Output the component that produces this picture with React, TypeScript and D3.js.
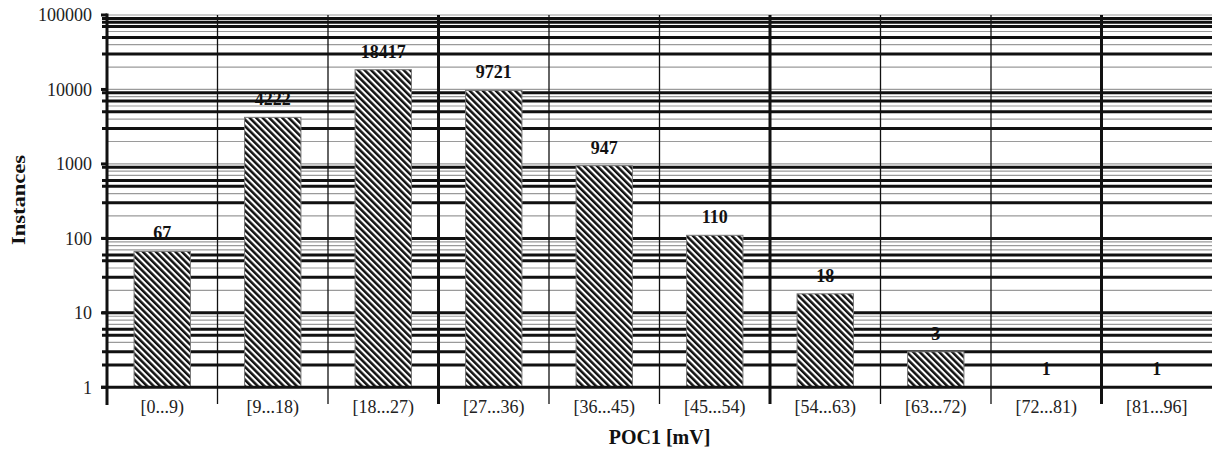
import React, { useEffect, useRef } from 'react';
import * as d3 from 'd3';

const categories = [
  '[0...9)', '[9...18)', '[18...27)', '[27...36)', '[36...45)',
  '[45...54)', '[54...63)', '[63...72)', '[72...81)', '[81...96]',
];
const instances = [67, 4222, 18417, 9721, 947, 110, 18, 3, 1, 1];
const yTickLabels = [1, 10, 100, 1000, 10000, 100000];

// gridlines that came out heavy in the original print
const heavyGrid = [
  2, 3, 5, 6, 10, 30, 50, 60, 100, 300, 500, 600, 900,
  3000, 5000, 7000, 9000, 30000, 50000, 70000, 80000, 90000,
];

const W = 1212;
const H = 452;
const LEFT = 107;
const RIGHT = 1212;
const TOP = 15;
const BOTTOM = 387.3;
const FONT = '"Liberation Serif", "Times New Roman", serif';

const App: React.FC = () => {
  const svgRef = useRef<SVGSVGElement>(null);

  useEffect(() => {
    if (!svgRef.current) return;
    const svg = d3.select(svgRef.current);
    svg.selectAll('*').remove();

    const x = d3.scaleBand<string>()
      .domain(categories)
      .range([LEFT, RIGHT])
      .paddingInner(0.49)
      .paddingOuter(0.245);
    const step = x.step();

    const y = d3.scaleLog().domain([1, 100000]).range([BOTTOM, TOP]);

    // hatch pattern
    const defs = svg.append('defs');
    const pat = defs.append('pattern')
      .attr('id', 'hatch')
      .attr('patternUnits', 'userSpaceOnUse')
      .attr('width', 4.6)
      .attr('height', 10)
      .attr('patternTransform', 'rotate(-45)');
    pat.append('rect').attr('width', 4.6).attr('height', 10).attr('fill', '#fff');
    pat.append('rect').attr('width', 2.5).attr('height', 10).attr('fill', '#111');

    // horizontal gridlines: every 1..9 per decade
    const gridVals: number[] = [];
    for (let d = 1; d < 100000; d *= 10) {
      for (let k = 1; k <= 9; k++) gridVals.push(k * d);
    }
    gridVals.push(100000);

    const grid = svg.append('g');
    gridVals.filter(v => v !== 1).forEach(v => {
      const heavy = heavyGrid.includes(v);
      grid.append('line')
        .attr('x1', heavy ? 102 : LEFT)
        .attr('x2', RIGHT)
        .attr('y1', y(v))
        .attr('y2', y(v))
        .attr('stroke', heavy ? '#111' : '#9a9a9a')
        .attr('stroke-width', heavy ? 3 : 1.2);
    });

    // vertical category separators
    d3.range(1, categories.length).forEach(i => {
      const xv = LEFT + i * step;
      const heavy = i % 3 === 0;
      grid.append('line')
        .attr('x1', xv).attr('x2', xv)
        .attr('y1', TOP).attr('y2', 404)
        .attr('stroke', '#111')
        .attr('stroke-width', heavy ? 3 : 1.3);
    });

    // bars
    svg.append('g')
      .selectAll('rect')
      .data(instances)
      .join('rect')
      .attr('x', (_, i) => x(categories[i]) as number)
      .attr('width', x.bandwidth())
      .attr('y', d => y(d))
      .attr('height', d => Math.max(0, BOTTOM - y(d)))
      .attr('fill', 'url(#hatch)')
      .attr('stroke', d => (d > 1 ? '#777' : 'none'))
      .attr('stroke-width', 1);

    // value labels
    svg.append('g')
      .selectAll('text')
      .data(instances)
      .join('text')
      .attr('x', (_, i) => (x(categories[i]) as number) + x.bandwidth() / 2)
      .attr('y', d => y(d) - 12)
      .attr('text-anchor', 'middle')
      .style('font-family', FONT)
      .style('font-size', '18px')
      .style('font-weight', 'bold')
      .style('fill', '#111')
      .text(d => String(d));

    // axes
    svg.append('line')
      .attr('x1', 101).attr('x2', RIGHT)
      .attr('y1', BOTTOM).attr('y2', BOTTOM)
      .attr('stroke', '#111').attr('stroke-width', 3);
    svg.append('line')
      .attr('x1', LEFT).attr('x2', LEFT)
      .attr('y1', TOP - 1.5).attr('y2', 405)
      .attr('stroke', '#111').attr('stroke-width', 3);

    // y ticks + labels
    const yAxis = svg.append('g');
    yTickLabels.forEach(v => {
      yAxis.append('line')
        .attr('x1', 101).attr('x2', LEFT)
        .attr('y1', y(v)).attr('y2', y(v))
        .attr('stroke', '#111').attr('stroke-width', 3);
      yAxis.append('text')
        .attr('x', 92)
        .attr('y', y(v))
        .attr('dy', '0.35em')
        .attr('text-anchor', 'end')
        .style('font-family', FONT)
        .style('font-size', '18px')
        .style('fill', '#222')
        .text(String(v));
    });

    // x labels
    svg.append('g')
      .selectAll('text')
      .data(categories)
      .join('text')
      .attr('x', d => (x(d) as number) + x.bandwidth() / 2)
      .attr('y', 413)
      .attr('text-anchor', 'middle')
      .style('font-family', FONT)
      .style('font-size', '18px')
      .style('fill', '#222')
      .text(d => d);

    // axis titles
    svg.append('text')
      .attr('x', (LEFT + RIGHT) / 2)
      .attr('y', 444)
      .attr('text-anchor', 'middle')
      .style('font-family', FONT)
      .style('font-size', '20px')
      .style('font-weight', 'bold')
      .style('fill', '#111')
      .text('POC1 [mV]');

    svg.append('text')
      .attr('transform', 'translate(25, 200) rotate(-90)')
      .attr('text-anchor', 'middle')
      .attr('textLength', 90)
      .attr('lengthAdjust', 'spacingAndGlyphs')
      .style('font-family', FONT)
      .style('font-size', '18px')
      .style('font-weight', 'bold')
      .style('fill', '#111')
      .text('Instances');
  }, []);

  return (
    <svg
      ref={svgRef}
      width={W}
      height={H}
      style={{ position: 'absolute', left: 0, top: 0, background: '#fff', display: 'block' }}
    />
  );
};

export default App;
